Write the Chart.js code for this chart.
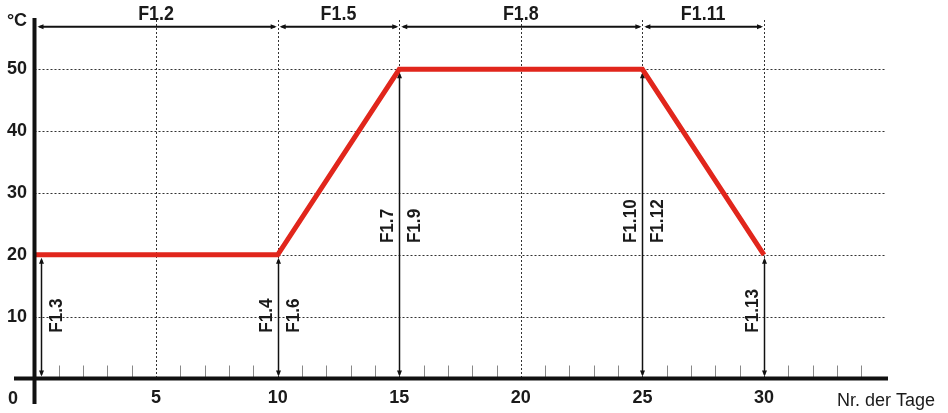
<!DOCTYPE html>
<html>
<head>
<meta charset="utf-8">
<script src="https://cdn.jsdelivr.net/npm/chart.js@4"></script>
<style>
html, body { margin: 0; padding: 0; background: #fff; }
</style>
</head>
<body>
<canvas id="chart" width="948" height="413"></canvas>
<script>
// temperature profile (day -> °C)
const days = [0, 10, 15, 25, 30];
const temps = [20, 20, 50, 50, 20];

const xTickLabels = [5, 10, 15, 20, 25, 30];
const yTickLabels = [10, 20, 30, 40, 50];

// dimension arrows along the top
const spanFrom = [0, 10, 15, 25];
const spanTo = [10, 15, 25, 30];
const spanLabels = ['F1.2', 'F1.5', 'F1.8', 'F1.11'];

// vertical arrows down to the axis
const markerDays = [0.25, 10, 15, 25, 30];
const markerTemps = [20, 20, 50, 50, 20];
const markerLeft = ['', 'F1.4', 'F1.7', 'F1.10', 'F1.13'];
const markerRight = ['F1.3', 'F1.6', 'F1.9', 'F1.12', ''];

const FONT = '"Liberation Sans", Arial, sans-serif';

function head(ctx, tx, ty, dx, dy) {
    // small filled arrowhead, tip at (tx, ty), pointing along (dx, dy)
    const len = 6, w = 2.5;
    ctx.beginPath();
    ctx.moveTo(tx, ty);
    ctx.lineTo(tx - dx * len - dy * w, ty - dy * len + dx * w);
    ctx.lineTo(tx - dx * len + dy * w, ty - dy * len - dx * w);
    ctx.closePath();
    ctx.fill();
}

const decor = {
    id: 'decor',
    beforeDatasetsDraw(chart) {
        const { ctx, chartArea: a } = chart;
        const x = chart.scales.x, y = chart.scales.y;
        const y0 = y.getPixelForValue(0);
        ctx.save();

        // dotted grid
        ctx.strokeStyle = '#333';
        ctx.lineWidth = 1;
        ctx.setLineDash([2, 2]);
        yTickLabels.forEach(v => {
            const py = Math.round(y.getPixelForValue(v)) + 0.5;
            ctx.beginPath();
            ctx.moveTo(x.getPixelForValue(0), py);
            ctx.lineTo(x.getPixelForValue(35), py);
            ctx.stroke();
        });
        xTickLabels.forEach(v => {
            const px = Math.round(x.getPixelForValue(v)) + 0.5;
            ctx.beginPath();
            ctx.moveTo(px, a.top + 2);
            ctx.lineTo(px, y0);
            ctx.stroke();
        });
        ctx.setLineDash([]);

        // minor day ticks
        ctx.strokeStyle = '#888';
        for (let d = 1; d < 35; d++) {
            if (d % 5 === 0) continue;
            const px = Math.round(x.getPixelForValue(d)) + 0.5;
            ctx.beginPath();
            ctx.moveTo(px, y0 - 13);
            ctx.lineTo(px, y0);
            ctx.stroke();
        }

        // vertical double arrows
        ctx.strokeStyle = '#111';
        ctx.fillStyle = '#111';
        ctx.lineWidth = 1.5;
        markerDays.forEach((d, i) => {
            const px = Math.round(x.getPixelForValue(d)) + 0.5;
            const top = y.getPixelForValue(markerTemps[i]) + 3;
            const bot = y0 - 2;
            ctx.beginPath();
            ctx.moveTo(px, top + 2);
            ctx.lineTo(px, bot - 2);
            ctx.stroke();
            head(ctx, px, top, 0, -1);
            head(ctx, px, bot, 0, 1);
        });

        // top dimension arrows
        const ty = y.getPixelForValue(56.9);
        ctx.lineWidth = 2;
        spanFrom.forEach((f, i) => {
            const x1 = x.getPixelForValue(f) + (f === 0 ? 3 : 2);
            const x2 = x.getPixelForValue(spanTo[i]) - 1;
            ctx.beginPath();
            ctx.moveTo(x1 + 2, ty);
            ctx.lineTo(x2 - 2, ty);
            ctx.stroke();
            head(ctx, x1, ty, -1, 0);
            head(ctx, x2, ty, 1, 0);
        });
        ctx.restore();
    },
    afterDatasetsDraw(chart) {
        const { ctx } = chart;
        const x = chart.scales.x, y = chart.scales.y;
        const y0 = y.getPixelForValue(0);
        const x0 = x.getPixelForValue(0);
        ctx.save();

        // axes
        ctx.strokeStyle = '#111';
        ctx.lineWidth = 4;
        ctx.beginPath();
        ctx.moveTo(x0, 18);
        ctx.lineTo(x0, 404);
        ctx.stroke();
        ctx.beginPath();
        ctx.moveTo(14, y0);
        ctx.lineTo(888, y0);
        ctx.stroke();

        ctx.fillStyle = '#1a1a1a';
        ctx.font = 'bold 18px ' + FONT;
        ctx.textBaseline = 'middle';

        // tick labels
        ctx.textAlign = 'center';
        xTickLabels.forEach(v => ctx.fillText(String(v), x.getPixelForValue(v), y0 + 20));
        ctx.fillText('0', 13, y0 + 21);
        ctx.fillText('°C', 17, 21);
        ctx.textAlign = 'right';
        yTickLabels.forEach(v => ctx.fillText(String(v), 27, y.getPixelForValue(v)));

        // span labels, slightly condensed
        ctx.textAlign = 'center';
        ctx.font = 'bold 19px ' + FONT;
        spanFrom.forEach((f, i) => {
            const mid = (x.getPixelForValue(f) + x.getPixelForValue(spanTo[i])) / 2;
            ctx.save();
            ctx.translate(mid, 15);
            ctx.scale(0.94, 1.05);
            ctx.fillText(spanLabels[i], 0, 0);
            ctx.restore();
        });

        // rotated marker labels
        ctx.font = 'bold 18px ' + FONT;
        ctx.textAlign = 'left';
        markerDays.forEach((d, i) => {
            const px = x.getPixelForValue(d);
            const base = y.getPixelForValue(markerTemps[i] > 30 ? 21.9 : 7.4);
            [[markerLeft[i], -12], [markerRight[i], 15]].forEach(([txt, off]) => {
                if (!txt) return;
                ctx.save();
                ctx.translate(px + off, base);
                ctx.rotate(-Math.PI / 2);
                ctx.scale(0.95, 1);
                ctx.fillText(txt, 0, 1);
                ctx.restore();
            });
        });

        // x axis title
        ctx.font = '18px ' + FONT;
        ctx.textAlign = 'left';
        ctx.fillText('Nr. der Tage', 837, y0 + 23);
        ctx.restore();
    }
};

new Chart(document.getElementById('chart'), {
    type: 'line',
    data: {
        datasets: [{
            data: days.map((d, i) => ({ x: d, y: temps[i] })),
            borderColor: '#e1261c',
            borderWidth: 5,
            borderJoinStyle: 'miter',
            borderCapStyle: 'butt',
            pointRadius: 0,
            tension: 0,
            fill: false
        }]
    },
    options: {
        responsive: false,
        animation: false,
        layout: { padding: { left: 34.5, right: 60, top: 18, bottom: 34.5 } },
        plugins: { legend: { display: false }, tooltip: { enabled: false } },
        scales: {
            x: { type: 'linear', min: 0, max: 35.1, display: false },
            y: { min: 0, max: 58.3, display: false }
        }
    },
    plugins: [decor]
});
</script>
</body>
</html>
